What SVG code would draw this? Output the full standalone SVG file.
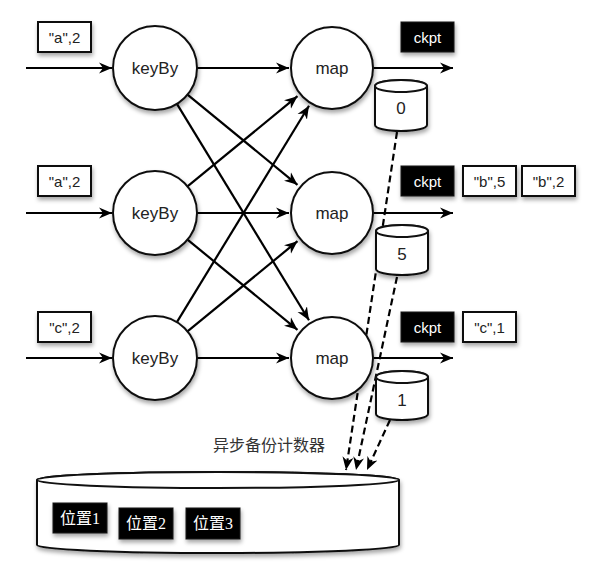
<svg xmlns="http://www.w3.org/2000/svg" width="595" height="571" viewBox="0 0 595 571">
  <style>
    .node { fill: #fff; stroke: #111; stroke-width: 2; }
    .box { fill: #fff; stroke: #111; stroke-width: 2; }
    .dark { fill: #000; stroke: #111; stroke-width: 1; }
    .lbl { font-family: "Liberation Sans", Arial, sans-serif; fill: #222; text-anchor: middle; dominant-baseline: central; }
    .big { font-size: 17px; }
    .sm { font-size: 15px; }
    .wt { fill: #fff; }
    .cjk { font-family: "Liberation Serif", "Noto Sans CJK SC", serif; font-size: 16px; fill: #fff; text-anchor: middle; dominant-baseline: central; }
    .edge { fill: none; stroke: #000; stroke-width: 2.2; marker-end: url(#arr); }
    .dash { fill: none; stroke: #000; stroke-width: 2.2; stroke-dasharray: 7 4; marker-end: url(#arr); }
  </style>
  <defs>
    <marker id="arr" markerUnits="userSpaceOnUse" markerWidth="14" markerHeight="12" refX="13" refY="6" orient="auto">
      <path d="M0,0.5 L13,6 L0,11.5 L4,6 z" fill="#000"/>
    </marker>
    <filter id="sh" x="-20%" y="-20%" width="150%" height="150%">
      <feDropShadow dx="1" dy="3" stdDeviation="2" flood-color="#000" flood-opacity="0.35"/>
    </filter>
  </defs>
  <rect width="595" height="571" fill="#fff"/>

  <g id="connectors">
    <!-- inputs -->
    <path class="edge" d="M26,68 L112,68"/>
    <path class="edge" d="M26,213 L112,213"/>
    <path class="edge" d="M26,358 L112,358"/>
    <!-- keyBy to map horizontal -->
    <path class="edge" d="M197,68 L289,68"/>
    <path class="edge" d="M197,213 L289,213"/>
    <path class="edge" d="M197,358 L289,358"/>
    <!-- crosses -->
    <path class="edge" d="M187.5,94.6 L297.5,184.8"/>
    <path class="edge" d="M176.9,103.9 L309,320.3"/>
    <path class="edge" d="M187.5,186.4 L297.5,96.2"/>
    <path class="edge" d="M187.5,239.6 L297.5,329.8"/>
    <path class="edge" d="M176.9,322.1 L309,105.7"/>
    <path class="edge" d="M187.5,331.4 L297.5,241.2"/>
    <!-- outputs -->
    <path class="edge" d="M374,68 L453,68"/>
    <path class="edge" d="M374,213 L453,213"/>
    <path class="edge" d="M374,358 L453,358"/>
    <!-- dashed async backups -->
    <path class="dash" d="M397,132 L346,470"/>
    <path class="dash" d="M397,277 L356,470"/>
    <path class="dash" d="M390,420 L367,470"/>
  </g>

  <g id="in1"><rect class="box" x="38" y="22" width="53" height="30" filter="url(#sh)"/><text class="lbl sm" x="64.5" y="37">"a",2</text></g>
  <g id="in2"><rect class="box" x="38" y="166" width="53" height="30" filter="url(#sh)"/><text class="lbl sm" x="64.5" y="181">"a",2</text></g>
  <g id="in3"><rect class="box" x="38" y="312" width="53" height="30" filter="url(#sh)"/><text class="lbl sm" x="64.5" y="327">"c",2</text></g>

  <g id="keyBy1"><circle class="node" cx="155" cy="68" r="42" filter="url(#sh)"/><text class="lbl big" x="155" y="68">keyBy</text></g>
  <g id="keyBy2"><circle class="node" cx="155" cy="213" r="42" filter="url(#sh)"/><text class="lbl big" x="155" y="213">keyBy</text></g>
  <g id="keyBy3"><circle class="node" cx="155" cy="358" r="42" filter="url(#sh)"/><text class="lbl big" x="155" y="358">keyBy</text></g>

  <g id="map1"><circle class="node" cx="332" cy="68" r="41" filter="url(#sh)"/><text class="lbl big" x="332" y="68">map</text></g>
  <g id="map2"><circle class="node" cx="332" cy="213" r="41" filter="url(#sh)"/><text class="lbl big" x="332" y="213">map</text></g>
  <g id="map3"><circle class="node" cx="332" cy="358" r="41" filter="url(#sh)"/><text class="lbl big" x="332" y="358">map</text></g>

  <g id="ckpt1"><rect class="dark" x="401" y="22" width="53" height="30" filter="url(#sh)"/><text class="lbl sm wt" x="427.5" y="37">ckpt</text></g>
  <g id="ckpt2"><rect class="dark" x="401" y="166" width="53" height="30" filter="url(#sh)"/><text class="lbl sm wt" x="427.5" y="181">ckpt</text></g>
  <g id="ckpt3"><rect class="dark" x="401" y="312" width="53" height="30" filter="url(#sh)"/><text class="lbl sm wt" x="427.5" y="327">ckpt</text></g>

  <g id="out-b5"><rect class="box" x="463" y="166" width="53" height="30" filter="url(#sh)"/><text class="lbl sm" x="489.5" y="181">"b",5</text></g>
  <g id="out-b2"><rect class="box" x="522" y="166" width="53" height="30" filter="url(#sh)"/><text class="lbl sm" x="548.5" y="181">"b",2</text></g>
  <g id="out-c1"><rect class="box" x="463" y="312" width="53" height="30" filter="url(#sh)"/><text class="lbl sm" x="489.5" y="327">"c",1</text></g>

  <g id="state0">
    <path class="node" d="M375,86 L375,125 A26,6 0 0 0 427,125 L427,86 A26,6 0 0 0 375,86 Z" filter="url(#sh)"/>
    <ellipse class="node" cx="401" cy="86" rx="26" ry="6"/>
    <text class="lbl big" x="401" y="108">0</text>
  </g>
  <g id="state5">
    <path class="node" d="M376,231 L376,269 A26,6 0 0 0 428,269 L428,231 A26,6 0 0 0 376,231 Z" filter="url(#sh)"/>
    <ellipse class="node" cx="402" cy="231" rx="26" ry="6"/>
    <text class="lbl big" x="402" y="254">5</text>
  </g>
  <g id="state1">
    <path class="node" d="M376,377 L376,414 A26,6 0 0 0 428,414 L428,377 A26,6 0 0 0 376,377 Z" filter="url(#sh)"/>
    <ellipse class="node" cx="402" cy="377" rx="26" ry="6"/>
    <text class="lbl big" x="402" y="400">1</text>
  </g>

  <text x="213" y="444" font-family="'Noto Sans CJK SC', sans-serif" font-size="16" fill="#333" dominant-baseline="central">异步备份计数器</text>

  <g id="storage">
    <path class="node" d="M37,480 L37,545 A181,8 0 0 0 399,545 L399,480 A181,8 0 0 0 37,480 Z" filter="url(#sh)"/>
    <ellipse class="node" cx="218" cy="480" rx="181" ry="8"/>
    <rect class="dark" x="53" y="503" width="54" height="30" filter="url(#sh)"/>
    <text class="cjk" x="80" y="518">位置1</text>
    <rect class="dark" x="119" y="508" width="54" height="31" filter="url(#sh)"/>
    <text class="cjk" x="146" y="523.5">位置2</text>
    <rect class="dark" x="186" y="508" width="54" height="31" filter="url(#sh)"/>
    <text class="cjk" x="213" y="523.5">位置3</text>
  </g>
</svg>
